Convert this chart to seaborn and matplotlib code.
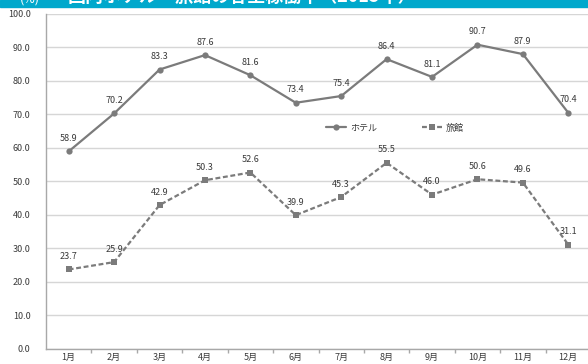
import matplotlib
matplotlib.use("Agg")
import matplotlib.pyplot as plt
from matplotlib.ticker import FixedLocator
import seaborn as sns
import pandas as pd

months = ["1月", "2月", "3月", "4月", "5月", "6月", "7月", "8月", "9月", "10月", "11月", "12月"]
hotel = [58.9, 70.2, 83.3, 87.6, 81.6, 73.4, 75.4, 86.4, 81.1, 90.7, 87.9, 70.4]
ryokan = [23.7, 25.9, 42.9, 50.3, 52.6, 39.9, 45.3, 55.5, 46.0, 50.6, 49.6, 31.1]
series_names = ["ホテル", "旅館"]
yticks = [0, 10, 20, 30, 40, 50, 60, 70, 80, 90, 100]
title = "国内ホテル・旅館の客室稼働率（2015年）"

sns.set_theme(style="white")
plt.rcParams["font.family"] = ["Noto Sans CJK JP", "DejaVu Sans"]

df = pd.DataFrame({
    "month": months * 2,
    "rate": hotel + ryokan,
    "type": [series_names[0]] * len(months) + [series_names[1]] * len(months),
})

W, H = 588, 364
fig = plt.figure(figsize=(W / 100, H / 100), dpi=100)
ax = fig.add_axes([46 / W, (H - 349) / H, (591 - 46) / W, (349 - 13.5) / H])

line_col = "#7b7b7b"
text_col = "#3a3a3a"

sns.lineplot(
    data=df, x="month", y="rate", hue="type", style="type",
    palette={series_names[0]: line_col, series_names[1]: line_col},
    markers={series_names[0]: "o", series_names[1]: "s"},
    dashes={series_names[0]: "", series_names[1]: (2.2, 1.2)},
    markersize=4.5, markeredgewidth=0, linewidth=1.6,
    sort=False, ax=ax,
)

ax.set_xlim(-0.5, len(months) - 0.5)
ax.set_ylim(0, 100)
ax.set_yticks(yticks)
ax.set_yticklabels([f"{v:.1f}" for v in yticks])
ax.set_xlabel("")
ax.set_ylabel("")
ax.grid(axis="y", color="#d6d6d6", linewidth=1)
ax.grid(axis="x", visible=False)
for side in ["top", "right"]:
    ax.spines[side].set_visible(False)
for side in ["left", "bottom"]:
    ax.spines[side].set_color("#a8a8a8")
    ax.spines[side].set_linewidth(1)

ax.tick_params(axis="y", length=0, labelsize=6.5, labelcolor=text_col, pad=11)
ax.tick_params(axis="x", length=0, labelsize=6.5, labelcolor=text_col, pad=3)

# category separators on the x axis
ax.xaxis.set_minor_locator(FixedLocator([i + 0.5 for i in range(len(months) - 1)]))
ax.tick_params(axis="x", which="minor", length=3, color="#a8a8a8", direction="out", bottom=True)

for vals in (hotel, ryokan):
    for i, v in enumerate(vals):
        ax.annotate(f"{v:.1f}", (months[i], v), xytext=(0, 6), textcoords="offset points",
                    ha="center", va="bottom", fontsize=6.5, color=text_col)

leg = ax.legend(ncol=2, frameon=False, loc="center",
                bbox_to_anchor=(395 / W, (H - 128) / H), bbox_transform=fig.transFigure,
                fontsize=6.5, handlelength=2.2, columnspacing=5.0, handletextpad=0.4)
for t in leg.get_texts():
    t.set_color(text_col)

# header band
fig.patches.append(plt.Rectangle((0, 1 - 7 / H), 1, 7 / H, transform=fig.transFigure,
                                 color="#00a8cc", zorder=0))
fig.text(20 / W, 1 - 6 / H, "(%)", color="white", fontsize=9, va="bottom", ha="left")
fig.text(68 / W, 1 - 6 / H, title, color="white", fontsize=13, va="bottom", ha="left",
         fontweight="bold")

fig.savefig("out.png", dpi=100)
